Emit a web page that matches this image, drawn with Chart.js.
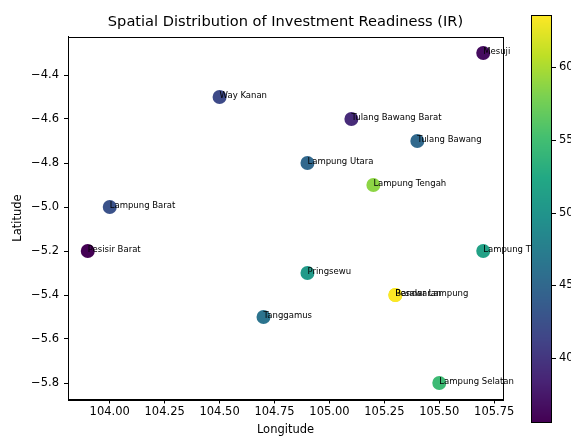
<!DOCTYPE html>
<html>
<head>
<meta charset="utf-8">
<script src="https://cdn.jsdelivr.net/npm/chart.js@4"></script>
<style>
  html, body { margin: 0; padding: 0; background: #fff; }
  #wrap { width: 571px; height: 437px; }
</style>
</head>
<body>
<div id="wrap"><canvas id="irMap"></canvas></div>
<script>
// ---------- DATA ----------
const regions   = ['Mesuji', 'Way Kanan', 'Tulang Bawang Barat', 'Tulang Bawang', 'Lampung Utara',
                   'Lampung Tengah', 'Lampung Barat', 'Pesisir Barat', 'Lampung Timur', 'Pringsewu',
                   'Bandar Lampung', 'Pesawaran', 'Tanggamus', 'Lampung Selatan'];
const longitude = [105.7, 104.5, 105.1, 105.4, 104.9, 105.2, 104.0, 103.9, 105.7, 104.9, 105.3, 105.3, 104.7, 105.5];
const latitude  = [-4.3, -4.5, -4.6, -4.7, -4.8, -4.9, -5.0, -5.2, -5.2, -5.3, -5.4, -5.4, -5.5, -5.8];
const irScore   = [36.5, 41.8, 39.0, 45.1, 45.0, 58.8, 42.6, 35.6, 51.6, 50.7, 62.0, 63.6, 46.4, 54.6];

const xTicks    = [104.00, 104.25, 104.50, 104.75, 105.00, 105.25, 105.50, 105.75];
const yTicks    = [-5.8, -5.6, -5.4, -5.2, -5.0, -4.8, -4.6, -4.4];
const cbarTicks = [40, 45, 50, 55, 60];

const TITLE = 'Spatial Distribution of Investment Readiness (IR)';
const FONT = 'DejaVu Sans';

// viridis colormap, sampled every 0.1
const viridisStops = ['#440154', '#482475', '#414487', '#355f8d', '#2a788e', '#21918c',
                      '#22a884', '#44bf70', '#7ad151', '#bddf26', '#fde725'];
function hexRgb(h){
  return [parseInt(h.slice(1,3),16), parseInt(h.slice(3,5),16), parseInt(h.slice(5,7),16)];
}
function viridis(t){
  t = Math.max(0, Math.min(1, t));
  const f = t * (viridisStops.length - 1);
  const i = Math.min(Math.floor(f), viridisStops.length - 2);
  const a = hexRgb(viridisStops[i]), b = hexRgb(viridisStops[i+1]);
  const k = f - i;
  const c = a.map((v, j) => Math.round(v + (b[j] - v) * k));
  return 'rgb(' + c.join(',') + ')';
}

const irMin = Math.min(...irScore);
const irMax = Math.max(...irScore);
const pointColors = irScore.map(v => viridis((v - irMin) / (irMax - irMin)));

// pad the axes by 5% of the data span, like matplotlib does
const xPad = (Math.max(...longitude) - Math.min(...longitude)) * 0.05;
const yPad = (Math.max(...latitude) - Math.min(...latitude)) * 0.05;

// ---------- PLUGINS ----------
// box round the plot area + title centred over it
const frame = {
  id: 'frame',
  afterDatasetsDraw(chart){
    const {ctx, chartArea: a} = chart;
    ctx.save();
    ctx.strokeStyle = '#000';
    ctx.lineWidth = 1;
    ctx.strokeRect(Math.round(a.left) + 0.5, Math.round(a.top) + 0.5,
                   Math.round(a.right - a.left), Math.round(a.bottom - a.top));
    ctx.font = '14.6px "' + FONT + '"';
    ctx.fillStyle = '#000';
    ctx.textAlign = 'center';
    ctx.textBaseline = 'middle';
    ctx.fillText(TITLE, (a.left + a.right) / 2, 22);
    ctx.restore();
  }
};

// region names next to each point
const regionLabels = {
  id: 'regionLabels',
  afterDatasetsDraw(chart){
    const {ctx} = chart;
    const pts = chart.getDatasetMeta(0).data;
    ctx.save();
    ctx.beginPath();
    ctx.rect(0, 0, 531, chart.height);
    ctx.clip();
    ctx.font = '8.5px "' + FONT + '"';
    ctx.fillStyle = '#000';
    ctx.textAlign = 'left';
    ctx.textBaseline = 'alphabetic';
    pts.forEach((p, i) => ctx.fillText(regions[i], p.x, p.y + 1));
    ctx.restore();
  }
};

// colour bar on the right
const colorBar = {
  id: 'colorBar',
  afterDraw(chart){
    const {ctx} = chart;
    const left = 531, width = 20, top = 15, bottom = 422;
    const h = bottom - top;
    ctx.save();
    for (let y = 0; y < h; y++) {
      ctx.fillStyle = viridis(1 - y / (h - 1));
      ctx.fillRect(left, top + y, width, 1);
    }
    ctx.strokeStyle = '#000';
    ctx.lineWidth = 1;
    ctx.strokeRect(left + 0.5, top + 0.5, width, h);
    ctx.font = '11.5px "' + FONT + '"';
    ctx.fillStyle = '#000';
    ctx.textAlign = 'left';
    ctx.textBaseline = 'middle';
    cbarTicks.forEach(v => {
      const y = Math.round(bottom - (v - irMin) / (irMax - irMin) * h) + 0.5;
      ctx.beginPath();
      ctx.moveTo(left + width + 1, y);
      ctx.lineTo(left + width + 5, y);
      ctx.stroke();
      ctx.fillText(String(v), left + width + 8, y);
    });
    ctx.restore();
  }
};

// ---------- SCATTER ----------
const irMap = document.getElementById('irMap');
new Chart(irMap, {
  type: 'scatter',
  data: {
    datasets: [{
      data: longitude.map((x, i) => ({x: x, y: latitude[i]})),
      pointRadius: 7,
      pointHoverRadius: 7,
      pointBorderWidth: 0,
      pointBackgroundColor: pointColors,
      pointBorderColor: pointColors
    }]
  },
  options: {
    responsive: true,
    maintainAspectRatio: false,
    animation: false,
    devicePixelRatio: 1,
    events: [],
    layout: { padding: { left: 0, right: 68, top: 36.5, bottom: 0 } },
    plugins: {
      legend: { display: false },
      tooltip: { enabled: false }
    },
    scales: {
      x: {
        type: 'linear',
        min: Math.min(...longitude) - xPad,
        max: Math.max(...longitude) + xPad,
        afterBuildTicks: s => { s.ticks = xTicks.map(v => ({value: v})); },
        afterFit: s => { s.height = 37.5; },
        grid: { drawOnChartArea: false, drawTicks: true, tickLength: 4, color: '#000' },
        border: { display: true, color: '#000' },
        ticks: {
          color: '#000', padding: 2, maxRotation: 0, autoSkip: false,
          font: { family: FONT, size: 11.5 },
          callback: v => Number(v).toFixed(2)
        },
        title: {
          display: true, text: 'Longitude', color: '#000',
          font: { family: FONT, size: 11.5 }, padding: { top: 0, bottom: 0 }
        }
      },
      y: {
        type: 'linear',
        min: Math.min(...latitude) - yPad,
        max: Math.max(...latitude) + yPad,
        afterBuildTicks: s => { s.ticks = yTicks.map(v => ({value: v})); },
        afterFit: s => { s.width = 68; },
        grid: { drawOnChartArea: false, drawTicks: true, tickLength: 4, color: '#000' },
        border: { display: true, color: '#000' },
        ticks: {
          color: '#000', padding: 5, autoSkip: false,
          font: { family: FONT, size: 11.5 },
          callback: v => Number(v).toFixed(1).replace('-', '\u2212')
        },
        title: {
          display: true, text: 'Latitude', color: '#000',
          font: { family: FONT, size: 11.5 }, padding: { top: 11, bottom: 0 }
        }
      }
    }
  },
  plugins: [frame, regionLabels, colorBar]
});
</script>
</body>
</html>
